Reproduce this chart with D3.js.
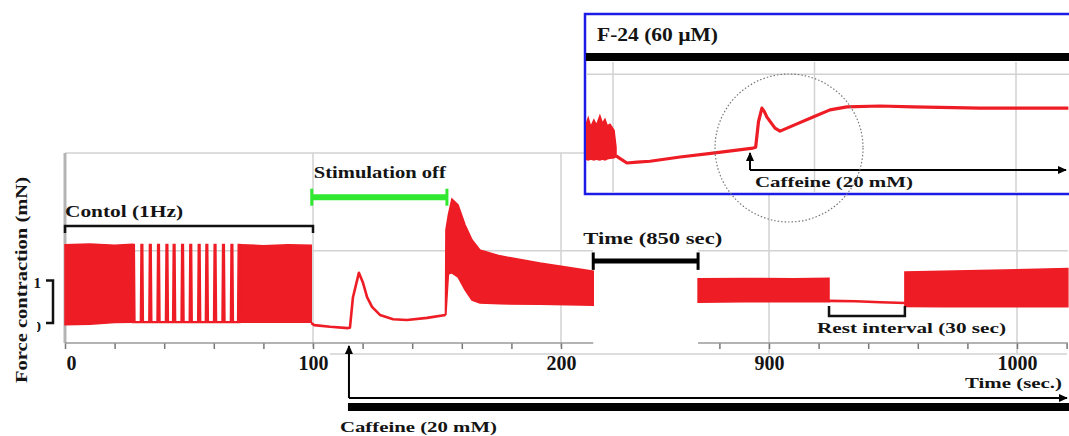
<!DOCTYPE html>
<html>
<head>
<meta charset="utf-8">
<script src="https://cdn.jsdelivr.net/npm/d3@7"></script>
<style>
  body { margin: 0; background: #fff; }
  text { font-family: "Liberation Serif", "Times New Roman", serif; font-weight: bold; fill: #141414; }
</style>
</head>
<body>
<svg id="chart" width="1069" height="436"></svg>
<script>
"use strict";

// Time windows shown (sec.)
const leftRange = [0, 213];
const rightRange = [871.4, 1020.5];
const leftTicks = d3.range(0, 201, 20);
const rightTicks = d3.range(880, 1021, 20);
const labelledTicks = [0, 100, 200, 900, 1000];
const gridLevels = [1.7, 4];  // horizontal grid lines (mN)

// Control 1 Hz twitches, envelope [t, min, max] in mN
const controlBandA = [[0, -0.04, 1.84], [10, -0.03, 1.86], [20, 0.01, 1.83], [27, 0.02, 1.85]];
const controlSpikes = [27.6, 31, 34.4, 37.7, 41.1, 44, 47.4, 50.7, 54.1, 57.2, 60.5, 63.9, 67.3, 70.2];
const spikePeak = 1.84;
const controlBandB = [[70.8, 0.02, 1.84], [80, 0.02, 1.82], [90, 0.02, 1.84], [99.3, 0.02, 1.83]];

// Stimulation off + caffeine transient [t, mN]
const offTrace = [[99.3, 0.0], [100.5, -0.05], [106.9, -0.09], [114.1, -0.12], [114.9, -0.11],
  [116.1, 0.6], [118.5, 1.18], [120.2, 0.94], [121.8, 0.61], [123.8, 0.38], [127, 0.19],
  [132.3, 0.09], [137.9, 0.07], [146, 0.12], [153.4, 0.19]];

// Stimulation back on
const restartBand = [[153.4, 0.19, 0.19], [153.6, 0.2, 2.19], [154.6, 1.15, 2.55], [156, 1.18, 2.92],
  [158.5, 1.08, 2.78], [161.3, 0.78, 2.31], [164.1, 0.54, 1.96], [167.3, 0.47, 1.72],
  [175.4, 0.45, 1.58], [191.5, 0.44, 1.41], [213, 0.42, 1.22]];

// After 850 s
const rightBandA = [[871.4, 0.49, 1.04], [890, 0.5, 1.05], [910, 0.5, 1.04], [924.2, 0.5, 1.05]];
const restTrace = [[924.2, 0.52], [935, 0.51], [945, 0.49], [954.8, 0.47]];
const rightBandB = [[954.8, 0.39, 1.2], [970, 0.38, 1.22], [990, 0.38, 1.24], [1020.5, 0.38, 1.28]];

// Annotation periods
const controlPeriod = [0, 100];
const stimOffPeriod = [99.5, 154];
const restPeriod = [924.2, 954.8];
const caffeineOnset = 114.5;

// Inset: F-24 (60 uM)
const insetTicks = [0, 100, 200];
const insetGrid = 2.02;
const insetBand = [[-13.6, 0.02, 0.8], [-12.3, 0, 0.99], [-11, 0.02, 0.78], [-9.5, 0, 0.94],
  [-8.2, 0.02, 0.82], [-6.5, 0, 1.04], [-5.2, 0.02, 0.86], [-4, 0, 0.96], [-2.8, 0.03, 0.8],
  [-1.5, 0.04, 0.84], [0.5, 0.05, 0.7], [1.5, 0.08, 0.3]];
const insetTrace = [[1.5, 0.1], [3, 0.05], [6.9, -0.07], [12, -0.05], [18.4, -0.03], [33.3, 0.07],
  [49.6, 0.16], [69.5, 0.28], [70.8, 0.3], [72.2, 0.9], [73.9, 1.22], [75, 1.15], [76.4, 1.01],
  [80.4, 0.75], [82.9, 0.68], [91.3, 0.85], [99.3, 1.01], [107.7, 1.18], [116.1, 1.25],
  [132.5, 1.27], [148.9, 1.25], [182.1, 1.22], [226, 1.22]];
const insetCaffeineOnset = 68;

const red = '#ee1c24';
const gridColor = '#d2d2d2';
const svg = d3.select('#chart');

const xL = d3.scaleLinear().domain([0, 200]).range([65, 561]);
const xR = d3.scaleLinear().domain([900, 1000]).range([769, 1017]);
const y = d3.scaleLinear().domain([0, 1]).range([323, 280.5]);
const axisY = 343;
const xI = d3.scaleLinear().domain([0, 200]).range([613, 1016]);
const yI = d3.scaleLinear().domain([0, 1]).range([160, 117.5]);

// stretch text to the width it has in the picture
function fit(sel, w) {
  sel.attr('textLength', w).attr('lengthAdjust', 'spacingAndGlyphs');
  return sel;
}

const defs = svg.append('defs');
defs.append('marker')
    .attr('id', 'arrow')
    .attr('viewBox', '0 0 10 10')
    .attr('refX', 9).attr('refY', 5)
    .attr('markerWidth', 4.5).attr('markerHeight', 4.5)
    .attr('orient', 'auto')
  .append('path')
    .attr('d', 'M0,0.5 L10,5 L0,9.5 z')
    .attr('fill', '#000');
defs.append('clipPath').attr('id', 'zero-clip')
  .append('rect').attr('x', 37).attr('y', 300).attr('width', 20).attr('height', 50);
defs.append('clipPath').attr('id', 'inset-clip')
  .append('rect').attr('x', 586).attr('y', 62).attr('width', 483).attr('height', 131);

// ---- grid
const grid = svg.append('g').attr('stroke', gridColor).attr('stroke-width', 1.5);
grid.append('line')  // top line
    .attr('x1', xL(0)).attr('x2', 1069)
    .attr('y1', y(gridLevels[1])).attr('y2', y(gridLevels[1]));
grid.append('line')
    .attr('x1', xL(leftRange[0])).attr('x2', xL(leftRange[1]))
    .attr('y1', y(gridLevels[0])).attr('y2', y(gridLevels[0]));
grid.append('line')
    .attr('x1', xR(rightRange[0])).attr('x2', xR(rightRange[1]))
    .attr('y1', y(gridLevels[0])).attr('y2', y(gridLevels[0]));
grid.selectAll('.vl')
    .data([100, 200])
    .enter().append('line')
    .attr('x1', d => xL(d)).attr('x2', d => xL(d))
    .attr('y1', y(gridLevels[1])).attr('y2', axisY + 4);
grid.selectAll('.vr')
    .data([900, 1000])
    .enter().append('line')
    .attr('x1', d => xR(d)).attr('x2', d => xR(d))
    .attr('y1', y(gridLevels[1])).attr('y2', 354);
grid.append('line')  // lower frame line
    .attr('x1', 330).attr('x2', 1067)
    .attr('y1', 354).attr('y2', 354);
svg.append('line')  // left border
    .attr('x1', xL(0)).attr('x2', xL(0))
    .attr('y1', y(gridLevels[1])).attr('y2', axisY)
    .attr('stroke', '#b4b4b4').attr('stroke-width', 3);

// ---- x axes
function drawAxis(scale, ticks, range) {
  let g = svg.append('g')
             .attr('transform', `translate(0, ${axisY})`)
             .call(d3.axisBottom(scale)
                     .tickValues(ticks)
                     .tickSize(6)
                     .tickPadding(7)
                     .tickFormat(d => labelledTicks.includes(d) ? d : ''));
  g.select('.domain').remove();
  g.append('line')
   .attr('x1', scale(range[0])).attr('x2', scale(range[1]))
   .attr('stroke', '#9a9a9a').attr('stroke-width', 1.5);
  g.selectAll('.tick line').attr('stroke', '#777').attr('stroke-width', 1.5);
  g.selectAll('.tick text')
   .attr('font-size', 20)
   .attr('font-family', '"Liberation Serif", serif')
   .attr('fill', '#141414');
  return g;
}
const axL = drawAxis(xL, leftTicks, leftRange);
drawAxis(xR, rightTicks, rightRange);
axL.selectAll('.tick text').filter(d => d === 0)
   .attr('text-anchor', 'start').attr('x', 1);

// ---- red trace
const area = (xs) => d3.area().x(d => xs(d[0])).y0(d => y(d[1])).y1(d => y(d[2]));
const line = (xs) => d3.line().x(d => xs(d[0])).y(d => y(d[1]));
const traces = svg.append('g');

[controlBandA, controlBandB, restartBand].forEach(band => {
  traces.append('path').attr('d', area(xL)(band))
        .attr('fill', red).attr('stroke', red).attr('stroke-width', 1.5);
});
[rightBandA, rightBandB].forEach(band => {
  traces.append('path').attr('d', area(xR)(band))
        .attr('fill', red).attr('stroke', red).attr('stroke-width', 1.5);
});

let sparse = [[27, 0.02]];
for (let t of controlSpikes) {
  sparse.push([t - 0.45, 0.02], [t - 0.2, spikePeak], [t + 0.2, spikePeak], [t + 0.45, 0.02]);
}
sparse.push([70.8, 0.02]);
traces.append('path').attr('d', line(xL)(sparse))
      .attr('fill', 'none').attr('stroke', red).attr('stroke-width', 2.2);
traces.append('path').attr('d', line(xL)(offTrace))
      .attr('fill', 'none').attr('stroke', red).attr('stroke-width', 2.6)
      .attr('stroke-linejoin', 'round');
traces.append('path').attr('d', line(xR)(restTrace))
      .attr('fill', 'none').attr('stroke', red).attr('stroke-width', 2.6);

// ---- y scale bar
svg.append('path')
   .attr('d', `M46,${y(1)} H53 V${y(0)} H46`)
   .attr('fill', 'none').attr('stroke', '#111').attr('stroke-width', 2.5);
svg.append('text').attr('x', 41).attr('y', y(1) + 7).attr('text-anchor', 'end')
   .attr('font-size', 15).text('1');
svg.append('text').attr('x', 41).attr('y', y(0) + 9).attr('text-anchor', 'end')
   .attr('font-size', 15).attr('clip-path', 'url(#zero-clip)').text('0');
fit(svg.append('text')
       .attr('transform', 'translate(27, 383) rotate(-90)')
       .attr('font-size', 17).attr('fill', '#2b2418')
       .text('Force contraction (mN)'), 206);

// ---- annotations
const ann = svg.append('g').attr('fill', 'none');
ann.append('path')
   .attr('d', `M${xL(controlPeriod[0])},${y(2.12)} V${y(2.28)} H${xL(controlPeriod[1])} V${y(2.12)}`)
   .attr('stroke', '#111').attr('stroke-width', 2.5);
fit(svg.append('text').attr('x', xL(controlPeriod[0])).attr('y', y(2.49))
       .attr('font-size', 17).text('Contol (1Hz)'), 118);

ann.append('line')
   .attr('x1', xL(stimOffPeriod[0])).attr('x2', xL(stimOffPeriod[1]))
   .attr('y1', y(2.96)).attr('y2', y(2.96))
   .attr('stroke', '#2fe82f').attr('stroke-width', 6);
ann.selectAll('.gcap').data(stimOffPeriod).enter().append('line')
   .attr('x1', d => xL(d)).attr('x2', d => xL(d))
   .attr('y1', y(3.16)).attr('y2', y(2.76))
   .attr('stroke', '#2fe82f').attr('stroke-width', 3);
fit(svg.append('text').attr('x', xL(stimOffPeriod[0]) + 2).attr('y', y(3.41))
       .attr('font-size', 17).text('Stimulation off'), 132);

// gap (850 s) bracket
ann.append('line')
   .attr('x1', xL(leftRange[1])).attr('x2', xR(rightRange[0]))
   .attr('y1', y(1.46)).attr('y2', y(1.46))
   .attr('stroke', '#000').attr('stroke-width', 5);
ann.selectAll('.tcap').data([xL(leftRange[1]), xR(rightRange[0])]).enter().append('line')
   .attr('x1', d => d).attr('x2', d => d)
   .attr('y1', y(1.66)).attr('y2', y(1.25))
   .attr('stroke', '#000').attr('stroke-width', 3);
fit(svg.append('text').attr('x', xL(leftRange[1]) - 10).attr('y', y(1.86))
       .attr('font-size', 17).text('Time (850 sec)'), 139);

// rest interval
ann.append('path')
   .attr('d', `M${xR(restPeriod[0])},${y(0.4)} V${y(0.165)} H${xR(restPeriod[1])} V${y(0.4)}`)
   .attr('stroke', '#111').attr('stroke-width', 2.5);
fit(svg.append('text').attr('x', 817).attr('y', y(-0.235))
       .attr('font-size', 15).text('Rest interval (30 sec)'), 189);

fit(svg.append('text').attr('x', 965).attr('y', 388)
       .attr('font-size', 14).text('Time (sec.)'), 97);

// caffeine (main)
const cx = xL(caffeineOnset);
ann.append('path')
   .attr('d', `M${cx},398 V346`)
   .attr('stroke', '#000').attr('stroke-width', 2)
   .attr('marker-end', 'url(#arrow)');
ann.append('path')
   .attr('d', `M${cx},398 H1067`)
   .attr('stroke', '#000').attr('stroke-width', 2)
   .attr('marker-end', 'url(#arrow)');
svg.append('rect')
   .attr('x', cx - 1).attr('y', 403).attr('width', 1069 - cx + 1).attr('height', 8)
   .attr('fill', '#000');
fit(svg.append('text').attr('x', cx - 9).attr('y', 432)
       .attr('font-size', 15).text('Caffeine (20 mM)'), 157);

// ---- inset
const inset = svg.append('g');
inset.append('rect')
     .attr('x', 585).attr('y', 14).attr('width', 486).attr('height', 180)
     .attr('fill', '#fff').attr('stroke', '#1c1ce6').attr('stroke-width', 2.5);
const ig = inset.append('g').attr('stroke', gridColor).attr('stroke-width', 1.5);
ig.append('line').attr('x1', 586).attr('x2', 1069)
  .attr('y1', yI(insetGrid)).attr('y2', yI(insetGrid));
ig.selectAll('line.v').data(insetTicks).enter().append('line')
  .attr('x1', d => xI(d)).attr('x2', d => xI(d))
  .attr('y1', 62).attr('y2', 193);
inset.append('rect')
     .attr('x', 586).attr('y', 53).attr('width', 483).attr('height', 8)
     .attr('fill', '#000');
fit(inset.append('text').attr('x', 597).attr('y', 41)
         .attr('font-size', 18).text('F-24 (60 µM)'), 121);

const insetTraces = inset.append('g').attr('clip-path', 'url(#inset-clip)');
insetTraces.append('path')
           .attr('d', d3.area().x(d => xI(d[0])).y0(d => yI(d[1])).y1(d => yI(d[2]))(insetBand))
           .attr('fill', red).attr('stroke', red).attr('stroke-width', 1.5);
insetTraces.append('path')
           .attr('d', d3.line().x(d => xI(d[0])).y(d => yI(d[1]))(insetTrace))
           .attr('fill', 'none').attr('stroke', red).attr('stroke-width', 3.2)
           .attr('stroke-linejoin', 'round');

const ix = xI(insetCaffeineOnset);
inset.append('path')
     .attr('d', `M${ix},170 V153`)
     .attr('fill', 'none').attr('stroke', '#000').attr('stroke-width', 2)
     .attr('marker-end', 'url(#arrow)');
inset.append('path')
     .attr('d', `M${ix},170 H1066`)
     .attr('fill', 'none').attr('stroke', '#000').attr('stroke-width', 2)
     .attr('marker-end', 'url(#arrow)');
fit(inset.append('text').attr('x', ix + 5).attr('y', 187)
         .attr('font-size', 15).text('Caffeine (20 mM)'), 158);

// dotted circle round the caffeine response
svg.append('circle')
   .attr('cx', xI(insetCaffeineOnset) + 39).attr('cy', 148).attr('r', 74)
   .attr('fill', 'none').attr('stroke', '#777')
   .attr('stroke-width', 1.2).attr('stroke-dasharray', '1.5,2');
</script>
</body>
</html>
